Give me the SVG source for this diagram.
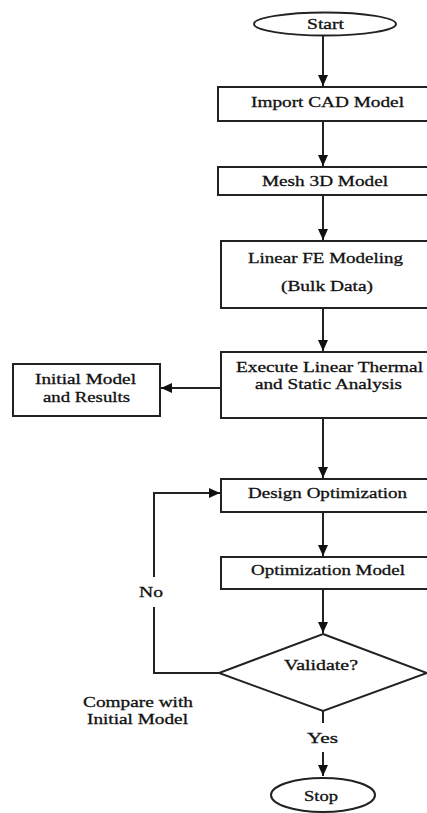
<svg xmlns="http://www.w3.org/2000/svg" width="427" height="813" viewBox="0 0 427 813">
<style>
.box{fill:#fff;stroke:#222;stroke-width:2}
.ln{fill:none;stroke:#222;stroke-width:2}
.t{font-family:"Liberation Serif","Times New Roman",serif;font-size:15px;fill:#111;stroke:#111;stroke-width:0.3;text-anchor:start}
</style>
<defs>
<marker id="ah" markerUnits="userSpaceOnUse" markerWidth="12" markerHeight="12" viewBox="0 0 12 12" refX="11" refY="5" orient="auto">
<path d="M0,0 L11,5 L0,10 z" fill="#111"/>
</marker>
</defs>
<rect width="427" height="813" fill="#fff"/>
<g id="connectors">
<line class="ln" x1="323" y1="35" x2="323" y2="86" marker-end="url(#ah)"/>
<line class="ln" x1="323" y1="121" x2="323" y2="166" marker-end="url(#ah)"/>
<line class="ln" x1="323" y1="195" x2="323" y2="240" marker-end="url(#ah)"/>
<line class="ln" x1="323" y1="308" x2="323" y2="351" marker-end="url(#ah)"/>
<line class="ln" x1="221" y1="388" x2="161" y2="388" marker-end="url(#ah)"/>
<line class="ln" x1="323" y1="418" x2="323" y2="478" marker-end="url(#ah)"/>
<line class="ln" x1="323" y1="512" x2="323" y2="556" marker-end="url(#ah)"/>
<line class="ln" x1="323" y1="589" x2="323" y2="633" marker-end="url(#ah)"/>
<polyline class="ln" points="219,673 154,673 154,607"/>
<polyline class="ln" points="154,577 154,493 220,493" marker-end="url(#ah)"/>
<line class="ln" x1="323" y1="711" x2="323" y2="723"/>
<line class="ln" x1="323" y1="752" x2="323" y2="776" marker-end="url(#ah)"/>
<text class="t" x="139" y="597" textLength="24" lengthAdjust="spacingAndGlyphs">No</text>
<text class="t" x="307" y="743" textLength="31" lengthAdjust="spacingAndGlyphs">Yes</text>
</g>
<g id="start">
<ellipse cx="325" cy="24" rx="71" ry="11.5" class="box"/>
<text class="t" x="307" y="29" textLength="37" lengthAdjust="spacingAndGlyphs">Start</text>
</g>
<g id="import">
<rect class="box" x="218" y="87" width="214" height="34"/>
<text class="t" x="251" y="107" textLength="153" lengthAdjust="spacingAndGlyphs">Import CAD Model</text>
</g>
<g id="mesh">
<rect class="box" x="218" y="167" width="214" height="28"/>
<text class="t" x="262" y="186" textLength="126" lengthAdjust="spacingAndGlyphs">Mesh 3D Model</text>
</g>
<g id="fe">
<rect class="box" x="221" y="241" width="211" height="67"/>
<text class="t" x="248" y="263" textLength="155" lengthAdjust="spacingAndGlyphs">Linear FE Modeling</text>
<text class="t" x="281" y="291" textLength="92" lengthAdjust="spacingAndGlyphs">(Bulk Data)</text>
</g>
<g id="execute">
<rect class="box" x="221" y="352" width="211" height="66"/>
<text class="t" x="236" y="372" textLength="187" lengthAdjust="spacingAndGlyphs">Execute Linear Thermal</text>
<text class="t" x="255" y="389" textLength="147" lengthAdjust="spacingAndGlyphs">and Static Analysis</text>
</g>
<g id="initial">
<rect class="box" x="13" y="364" width="147" height="52"/>
<text class="t" x="35" y="384" textLength="101" lengthAdjust="spacingAndGlyphs">Initial Model</text>
<text class="t" x="43" y="402" textLength="87" lengthAdjust="spacingAndGlyphs">and Results</text>
</g>
<g id="design">
<rect class="box" x="221" y="479" width="211" height="33"/>
<text class="t" x="248" y="498" textLength="159" lengthAdjust="spacingAndGlyphs">Design Optimization</text>
</g>
<g id="optmodel">
<rect class="box" x="221" y="557" width="211" height="32"/>
<text class="t" x="251" y="575" textLength="154" lengthAdjust="spacingAndGlyphs">Optimization Model</text>
</g>
<g id="validate">
<polygon class="box" points="323,634 427,673 323,711 219,673"/>
<text class="t" x="284" y="670" textLength="74" lengthAdjust="spacingAndGlyphs">Validate?</text>
</g>
<g id="compare">
<text class="t" x="83" y="707" textLength="110" lengthAdjust="spacingAndGlyphs">Compare with</text>
<text class="t" x="87" y="724" textLength="101" lengthAdjust="spacingAndGlyphs">Initial Model</text>
</g>
<g id="stop">
<ellipse cx="323" cy="795" rx="52" ry="17" class="box"/>
<text class="t" x="304" y="801" textLength="34" lengthAdjust="spacingAndGlyphs">Stop</text>
</g>
</svg>
